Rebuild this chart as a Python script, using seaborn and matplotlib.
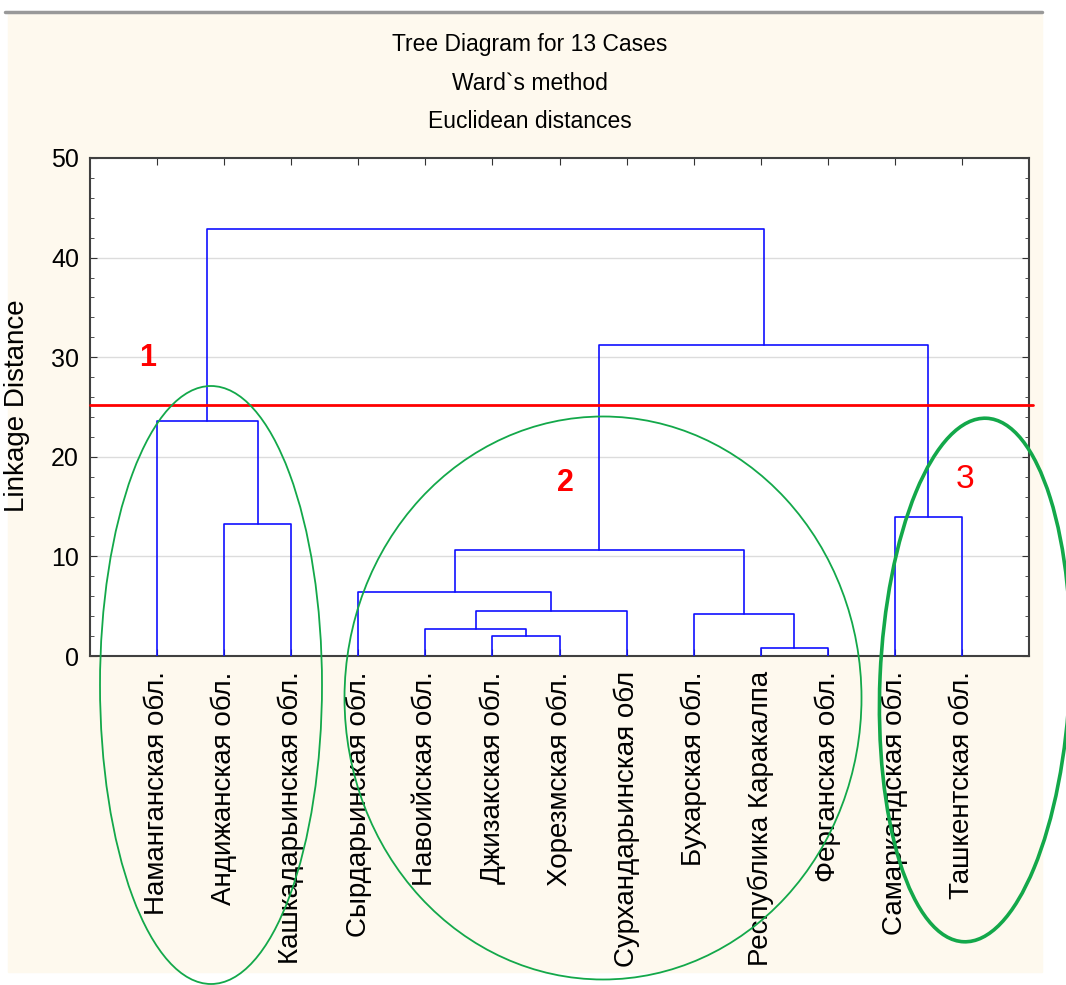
import seaborn as sns
import matplotlib.pyplot as plt
import matplotlib.patches as mpatches
import pandas as pd

# Области (листья дерева в порядке вывода)
labels = ['Наманганская обл.', 'Андижанская обл.', 'Кашкадарьинская обл.',
          'Сырдарьинская обл.', 'Навоийская обл.', 'Джизакская обл.',
          'Хорезмская обл.', 'Сурхандарьинская обл', 'Бухарская обл.',
          'Республика Каракалпа', 'Ферганская обл.', 'Самаркандская обл.',
          'Ташкентская обл.']

# Объединения кластеров: (левый, правый) и расстояние связи
merge_left = [1, 0, 5, 4, 16, 3, 9, 8, 18, 11, 21, 14]
merge_right = [2, 13, 6, 15, 7, 17, 10, 19, 20, 12, 22, 23]
merge_height = [13.3, 23.6, 2.05, 2.75, 4.5, 6.4, 0.8, 4.2, 10.6, 14.0, 31.25, 42.9]

cut_level = 25.2
W, H, DPI = 1066, 985, 100

sns.set_style('white')
plt.rcParams['font.family'] = ['Liberation Sans', 'DejaVu Sans']
plt.rcParams['text.color'] = 'black'
plt.rcParams['axes.labelcolor'] = 'black'
plt.rcParams['xtick.color'] = 'black'
plt.rcParams['ytick.color'] = 'black'

fig = plt.figure(figsize=(W / DPI, H / DPI), dpi=DPI)
fig.patch.set_facecolor('white')

# кремовый фон и серая линия сверху
fig.add_artist(mpatches.Rectangle((8 / W, 1 - 972 / H), 1034 / W, 958 / H,
                                  transform=fig.transFigure, color='#fef9ee', zorder=0))
fig.add_artist(plt.Line2D([5 / W, 1042 / W], [1 - 12 / H, 1 - 12 / H],
                          transform=fig.transFigure, color='#999999', lw=2.5))

ax = fig.add_axes([90 / W, 1 - 656 / H, 939 / W, 498 / H])
ax.set_facecolor('white')

# координаты узлов дерева
n = len(labels)
node_x = {i: i + 1 for i in range(n)}
node_y = {i: 0.0 for i in range(n)}
rows = []
for k, (a, b, h) in enumerate(zip(merge_left, merge_right, merge_height)):
    xs = [node_x[a], node_x[a], node_x[b], node_x[b]]
    ys = [node_y[a], h, h, node_y[b]]
    for j, (x, y) in enumerate(zip(xs, ys)):
        rows.append({'link': k, 'order': j, 'x': x, 'y': y})
    node_x[n + k] = (node_x[a] + node_x[b]) / 2
    node_y[n + k] = h
segs = pd.DataFrame(rows)

for y in [10, 20, 30, 40]:
    ax.axhline(y, color='#dcdcdc', lw=1, zorder=0)

sns.lineplot(data=segs, x='x', y='y', units='link', estimator=None, sort=False,
             color='#1010ff', lw=1.2, ax=ax, zorder=3)

ax.axhline(cut_level, xmin=0, xmax=1.004, color='#ff0000', lw=2, zorder=4, clip_on=False)

ax.set_xlim(0, 14)
ax.set_ylim(0, 50)
ax.set_xticks(range(1, n + 1))
ax.set_xticklabels(labels, rotation=90, fontsize=20, va='top', ha='center')
ax.set_yticks(range(0, 51, 10))
ax.set_yticks(range(0, 51, 2), minor=True)
ax.set_yticklabels([str(v) for v in range(0, 51, 10)], fontsize=18)
ax.tick_params(axis='x', direction='in', length=5, top=True, bottom=True, pad=11, color='#333333')
ax.tick_params(axis='y', which='both', direction='in', left=True, right=True, pad=8, color='#333333')
ax.tick_params(axis='y', which='major', length=5)
ax.tick_params(axis='y', which='minor', length=3)
for s in ax.spines.values():
    s.set_color('#404040')
    s.set_linewidth(1.5)

ax.set_xlabel('')
ax.set_ylabel('Linkage Distance', fontsize=20)
ax.yaxis.set_label_coords(-0.064, 0.503)

# заголовок
for txt, yp in [('Tree Diagram for 13 Cases', 45), ('Ward`s method', 84),
                ('Euclidean distances', 121)]:
    fig.text(530 / W, 1 - yp / H, txt, ha='center', va='center', fontsize=16.5)

# эллипсы кластеров (в пикселях фигуры)
def ellipse(cx, cy, w, h, lw, angle=0):
    e = mpatches.Ellipse((cx / DPI, (H - cy) / DPI), w / DPI, h / DPI, angle=angle,
                         transform=fig.dpi_scale_trans, fill=False,
                         edgecolor='#13a84a', lw=lw, zorder=10, clip_on=False)
    fig.add_artist(e)

ellipse(211, 685, 222, 598, 1.3)
ellipse(603, 698, 517, 563, 1.3)
ellipse(975, 680, 190, 524, 2.6, angle=-2.5)

# номера кластеров
fig.text(148 / W, 1 - 358 / H, '1', color='#ff0000', fontsize=22, fontweight='bold',
         ha='center', va='center')
fig.text(565 / W, 1 - 483 / H, '2', color='#ff0000', fontsize=22, fontweight='bold',
         ha='center', va='center')
fig.text(965 / W, 1 - 480 / H, '3', color='#ff0000', fontsize=24,
         ha='center', va='center')

fig.savefig('out.png', dpi=DPI)
